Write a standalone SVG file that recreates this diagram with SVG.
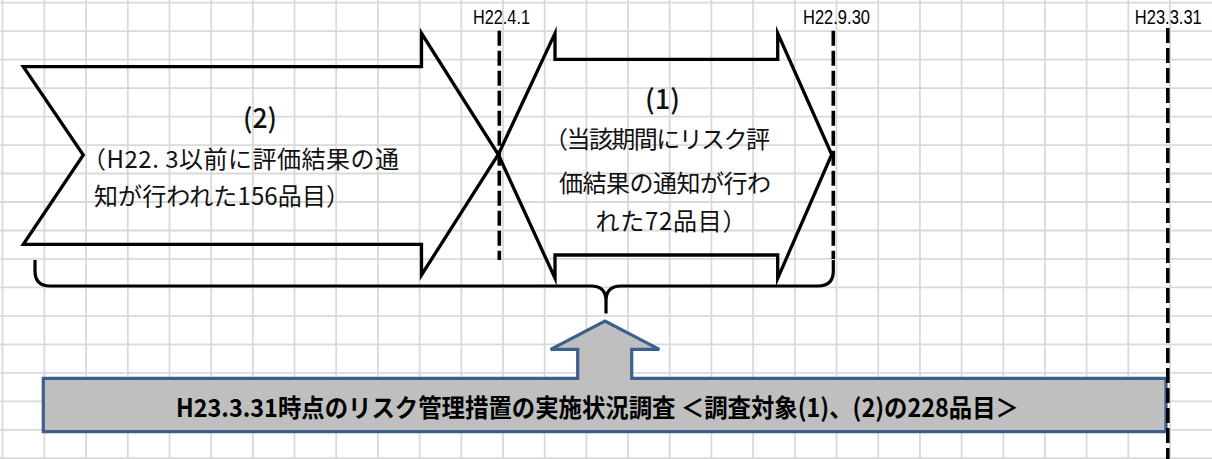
<svg xmlns="http://www.w3.org/2000/svg" width="1212" height="459" viewBox="0 0 1212 459">
<style>
.grid line{stroke:#d9d9d9;stroke-width:1.8}
.shape{fill:none;stroke:#000;stroke-width:3.3;stroke-linejoin:miter;stroke-miterlimit:10}
.dash{stroke:#000;stroke-width:3.6;stroke-dasharray:15 5;fill:none}
.brace{fill:none;stroke:#000;stroke-width:3.2;stroke-linejoin:round}
.survey{fill:#bfbfbf;stroke:#3d5f8e;stroke-width:3.2;stroke-linejoin:miter}
.date{font-family:"Liberation Sans",Arial,sans-serif;font-size:20.5px;fill:#000}
.body{font-family:"Noto Sans CJK JP","Noto Sans CJK SC",sans-serif;font-size:24px;fill:#111}
.num{font-family:"Noto Sans CJK JP","Noto Sans CJK SC",sans-serif;font-size:27px;font-weight:500;fill:#111}
.title{font-family:"Noto Sans CJK JP","Noto Sans CJK SC",sans-serif;font-size:25px;font-weight:bold;fill:#000}
</style>
<rect width="1212" height="459" fill="#fff"/>
<g id="grid" class="grid">
<line x1="2.5" y1="0" x2="2.5" y2="459"/><line x1="44.4" y1="0" x2="44.4" y2="459"/><line x1="86.1" y1="0" x2="86.1" y2="459"/><line x1="127.8" y1="0" x2="127.8" y2="459"/><line x1="169.5" y1="0" x2="169.5" y2="459"/><line x1="211.2" y1="0" x2="211.2" y2="459"/><line x1="252.8" y1="0" x2="252.8" y2="459"/><line x1="294.5" y1="0" x2="294.5" y2="459"/><line x1="336.2" y1="0" x2="336.2" y2="459"/><line x1="377.9" y1="0" x2="377.9" y2="459"/><line x1="419.6" y1="0" x2="419.6" y2="459"/><line x1="461.3" y1="0" x2="461.3" y2="459"/><line x1="503" y1="0" x2="503" y2="459"/><line x1="544.7" y1="0" x2="544.7" y2="459"/><line x1="586.4" y1="0" x2="586.4" y2="459"/><line x1="628" y1="0" x2="628" y2="459"/><line x1="669.7" y1="0" x2="669.7" y2="459"/><line x1="711.4" y1="0" x2="711.4" y2="459"/><line x1="753.1" y1="0" x2="753.1" y2="459"/><line x1="794.8" y1="0" x2="794.8" y2="459"/><line x1="836.5" y1="0" x2="836.5" y2="459"/><line x1="878.2" y1="0" x2="878.2" y2="459"/><line x1="919.9" y1="0" x2="919.9" y2="459"/><line x1="961.6" y1="0" x2="961.6" y2="459"/><line x1="1003.3" y1="0" x2="1003.3" y2="459"/><line x1="1045" y1="0" x2="1045" y2="459"/><line x1="1086.6" y1="0" x2="1086.6" y2="459"/><line x1="1128.3" y1="0" x2="1128.3" y2="459"/><line x1="1170" y1="0" x2="1170" y2="459"/>
<line x1="0" y1="2.7" x2="1212" y2="2.7"/><line x1="0" y1="31.2" x2="1212" y2="31.2"/><line x1="0" y1="59.6" x2="1212" y2="59.6"/><line x1="0" y1="88.1" x2="1212" y2="88.1"/><line x1="0" y1="116.6" x2="1212" y2="116.6"/><line x1="0" y1="145.1" x2="1212" y2="145.1"/><line x1="0" y1="173.5" x2="1212" y2="173.5"/><line x1="0" y1="202" x2="1212" y2="202"/><line x1="0" y1="230.5" x2="1212" y2="230.5"/><line x1="0" y1="258.9" x2="1212" y2="258.9"/><line x1="0" y1="287.4" x2="1212" y2="287.4"/><line x1="0" y1="315.9" x2="1212" y2="315.9"/><line x1="0" y1="344.3" x2="1212" y2="344.3"/><line x1="0" y1="372.8" x2="1212" y2="372.8"/><line x1="0" y1="401.3" x2="1212" y2="401.3"/><line x1="0" y1="429.8" x2="1212" y2="429.8"/><line x1="0" y1="458.2" x2="1212" y2="458.2"/>
</g>
<g id="timelines">
<line class="dash" x1="499.3" y1="30.7" x2="499.3" y2="260"/>
<line class="dash" x1="833.3" y1="30.7" x2="833.3" y2="259"/>
<text class="date" x="501.5" y="23.5" text-anchor="middle" textLength="57" lengthAdjust="spacingAndGlyphs">H22.4.1</text>
<text class="date" x="836.5" y="23.5" text-anchor="middle" textLength="67" lengthAdjust="spacingAndGlyphs">H22.9.30</text>
<text class="date" x="1168.3" y="24" text-anchor="middle" textLength="67" lengthAdjust="spacingAndGlyphs">H23.3.31</text>
</g>
<g id="node-2">
<polygon class="shape" points="23.3,66.7 421.5,66.7 421.5,33.3 498.3,154.5 421.5,275 421.5,244.3 23.3,244.3 83.3,155"/>
<text class="num" x="260" y="127.5" text-anchor="middle" textLength="34" lengthAdjust="spacingAndGlyphs">(2)</text>
<text class="body" x="82" y="168.3" textLength="317" lengthAdjust="spacing">（H22. 3以前に評価結果の通</text>
<text class="body" x="94" y="205" textLength="256" lengthAdjust="spacing">知が行われた156品目）</text>
</g>
<g id="node-1">
<polygon class="shape" points="498.3,154.5 555,33.3 555,59.3 777.7,59.3 777.7,33.3 831.7,154.5 777.7,278.3 777.7,255 555,255 555,278.3"/>
<text class="num" x="662.5" y="108.5" text-anchor="middle" textLength="35" lengthAdjust="spacingAndGlyphs">(1)</text>
<text class="body" x="544" y="148.3" textLength="226" lengthAdjust="spacing">（当該期間にリスク評</text>
<text class="body" x="559" y="191.6" textLength="212" lengthAdjust="spacing">価結果の通知が行わ</text>
<text class="body" x="595.5" y="230" textLength="151" lengthAdjust="spacing">れた72品目）</text>
</g>
<g id="connectors">
<path class="brace" d="M35,260 V271 Q35,286 50,286 H591 Q606,286 606,301 V313.5 M606,301 Q606,286 621,286 H818 Q833.3,286 833.3,271 V260"/>
</g>
<g id="node-survey">
<polygon class="survey" points="43.3,378.3 577.7,378.3 577.7,349.3 550.7,349.3 605,321 659.3,349.3 631.7,349.3 631.7,378.3 1166,378.3 1166,431.7 43.3,431.7"/>
<text class="title" x="176" y="417" textLength="843" lengthAdjust="spacingAndGlyphs">H23.3.31時点のリスク管理措置の実施状況調査 ＜調査対象(1)、(2)の228品目＞</text>
</g>
<line class="dash" x1="1167.8" y1="28" x2="1167.8" y2="459"/>
</svg>
